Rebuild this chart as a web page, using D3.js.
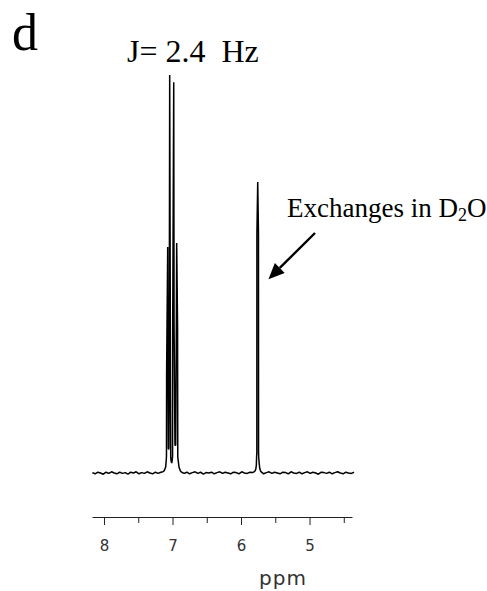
<html>
<head>
  <script src="https://d3js.org/d3.v7.min.js"></script>
  <style>
    body { margin: 0; background: #fff; }
    text { white-space: pre; }
  </style>
</head>
<body>
  <script>

    // spectrum points: [ppm, relative intensity]
    var spectrum = [
      [8.17,0.1],[8.13,-0.2],[8.09,0.2],[8.05,0.0],[8.01,-0.3],[7.97,0.2],[7.93,-0.1],
      [7.89,0.3],[7.85,0.0],[7.81,-0.2],[7.77,0.2],[7.73,-0.1],[7.69,0.1],[7.65,-0.3],
      [7.61,0.2],[7.57,0.0],[7.53,0.3],[7.49,-0.2],[7.45,0.1],[7.41,-0.1],[7.37,0.3],
      [7.33,0.0],[7.29,-0.2],[7.25,0.2],[7.21,-0.1],[7.17,0.2],[7.14,0.3],[7.12,0.6],
      // doublet of doublets
      [7.100,1.5],[7.092,3.0],[7.088,4.2],[7.086,25],[7.070,56.8],[7.066,25],[7.061,6],
      [7.053,6],[7.048,25],[7.041,100],[7.030,25],[7.026,4],[7.020,3.0],[7.012,2.5],
      [7.004,3.2],[6.999,4.2],[6.997,37],[6.982,98.2],[6.977,37],[6.964,7],[6.953,7],
      [6.944,37],[6.939,57.8],[6.926,37],[6.923,4],[6.916,3.0],[6.905,1.5],[6.885,0.5],
      [6.866,0.2],
      [6.83,-0.1],[6.79,0.2],[6.75,-0.2],[6.71,0.1],[6.67,0.3],[6.63,-0.1],[6.59,0.2],
      [6.55,-0.3],[6.51,0.1],[6.47,0.0],[6.43,0.2],[6.39,-0.2],[6.35,0.1],[6.31,0.3],
      [6.27,-0.1],[6.23,0.2],[6.19,0.0],[6.15,-0.2],[6.11,0.2],[6.07,0.1],[6.03,-0.2],
      [5.99,0.3],[5.95,0.0],[5.91,-0.1],[5.87,0.2],[5.83,0.1],[5.80,0.4],
      // exchangeable singlet
      [5.785,0.9],[5.776,2.0],[5.772,4.3],[5.769,5],[5.768,60],[5.756,73.1],[5.745,60],
      [5.744,5],[5.741,3.8],[5.735,2.5],[5.727,1.2],[5.715,0.5],[5.70,0.2],
      [5.67,-0.2],[5.63,0.1],[5.59,0.3],[5.55,-0.1],[5.51,0.2],[5.47,0.0],[5.43,-0.2],
      [5.39,0.2],[5.35,0.1],[5.31,-0.2],[5.27,0.3],[5.23,0.0],[5.19,-0.1],[5.15,0.2],
      [5.11,-0.2],[5.07,0.1],[5.03,0.3],[4.99,-0.1],[4.95,0.2],[4.91,0.0],[4.87,-0.3],
      [4.83,0.2],[4.79,0.1],[4.75,-0.1],[4.71,0.2],[4.67,-0.2],[4.63,0.1],[4.59,0.3],
      [4.55,0.0],[4.51,-0.2],[4.47,0.2],[4.43,0.0],[4.39,-0.1],[4.35,0.2]
    ];

    var majorTicks = [8, 7, 6, 5];
    var minorTicks = [7.5, 6.5, 5.5, 4.5];

    // arrow: [tail, tip] in [ppm, intensity]
    var arrowPts = [[4.92, 60.3], [5.60, 48.7]];

    var width = 487,
        height = 591;

    var svg = d3.select('body')
      .append('svg')
      .attr('width', width)
      .attr('height', height);

    var x = d3.scaleLinear()
      .domain([8.175, 4.38])
      .range([92, 352]);

    var y = d3.scaleLinear()
      .domain([0, 100])
      .range([473, 75]);

    var line = d3.line()
      .x((d) => x(d[0]))
      .y((d) => y(d[1]));

    svg.append('path')
      .datum(spectrum)
      .attr('fill', 'none')
      .attr('stroke', '#000')
      .attr('stroke-width', 1.5)
      .attr('stroke-linejoin', 'bevel')
      .attr('d', line);

    // axis
    var axisY = 517;

    var major = svg.append('g')
      .attr('transform', 'translate(0,' + axisY + ')')
      .call(d3.axisBottom(x)
        .tickValues(majorTicks)
        .tickSize(8)
        .tickSizeOuter(0)
        .tickPadding(26)
        .tickFormat(d3.format('d')));

    major.select('.domain').attr('stroke', '#222');
    major.selectAll('.tick line').attr('stroke', '#222');
    major.selectAll('.tick text')
      .attr('font-family', 'DejaVu Sans, sans-serif')
      .attr('font-size', 15)
      .attr('fill', '#333')
      .attr('dy', '0');

    var minor = svg.append('g')
      .attr('transform', 'translate(0,' + axisY + ')')
      .call(d3.axisBottom(x)
        .tickValues(minorTicks)
        .tickSize(6)
        .tickSizeOuter(0)
        .tickFormat(''));

    minor.select('.domain').remove();
    minor.selectAll('.tick line').attr('stroke', '#222');

    svg.append('text')
      .attr('x', 259)
      .attr('y', 585)
      .attr('font-family', 'DejaVu Sans, sans-serif')
      .attr('font-size', 20)
      .attr('letter-spacing', 1)
      .attr('fill', '#333')
      .text('ppm');

    // labels
    var serif = 'Liberation Serif, Times New Roman, serif';

    svg.append('text')
      .attr('x', 12)
      .attr('y', 50)
      .attr('font-family', serif)
      .attr('font-size', 52)
      .text('d');

    svg.append('text')
      .attr('x', 127)
      .attr('y', 62)
      .attr('font-family', serif)
      .attr('font-size', 32)
      .text('J= 2.4  Hz');

    var ex = svg.append('text')
      .attr('x', 287)
      .attr('y', 217)
      .attr('font-family', serif)
      .attr('font-size', 27);
    ex.append('tspan').text('Exchanges in D');
    ex.append('tspan').attr('font-size', 18).attr('dy', 4).text('2');
    ex.append('tspan').attr('dy', -4).text('O');

    // arrow
    var x0 = x(arrowPts[0][0]), y0 = y(arrowPts[0][1]),
        x1 = x(arrowPts[1][0]), y1 = y(arrowPts[1][1]);
    var ang = Math.atan2(y1 - y0, x1 - x0);
    var headLen = 16, headW = 7;
    var bx = x1 - headLen * Math.cos(ang), by = y1 - headLen * Math.sin(ang);

    svg.append('line')
      .attr('x1', x0).attr('y1', y0)
      .attr('x2', bx).attr('y2', by)
      .attr('stroke', '#000')
      .attr('stroke-width', 2.4);

    svg.append('path')
      .attr('d', 'M' + x1 + ',' + y1 +
        'L' + (bx + headW * Math.sin(ang)) + ',' + (by - headW * Math.cos(ang)) +
        'L' + (bx - headW * Math.sin(ang)) + ',' + (by + headW * Math.cos(ang)) + 'Z')
      .attr('fill', '#000');

  </script>
</body>
</html>
